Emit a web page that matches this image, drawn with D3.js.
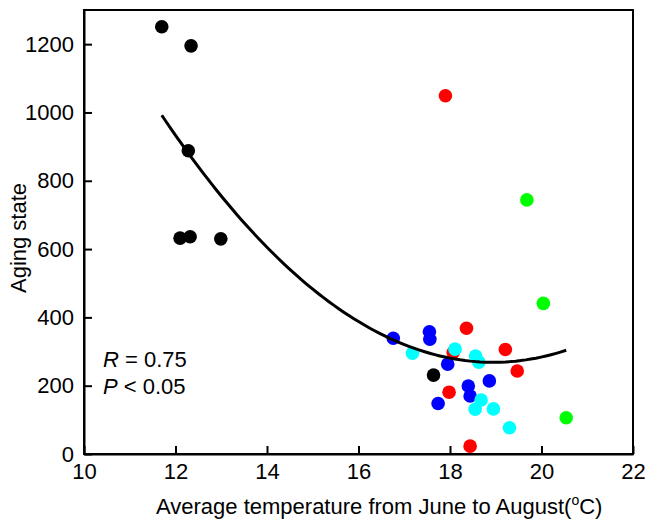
<!DOCTYPE html>
<html>
<head>
<meta charset="utf-8">
<script src="https://cdn.jsdelivr.net/npm/d3@7"></script>
<style>
  body { margin: 0; background: #fff; }
  svg text { font-family: "Liberation Sans", Arial, sans-serif; fill: #000; }
</style>
</head>
<body>
<div id="chart"></div>
<script>
// groups of sites, temperature (x) and aging state (y)
const tempA  = [11.70, 12.34, 12.28, 12.10, 12.32, 12.99, 17.64];
const agingA = [1251, 1195, 888, 632, 636, 630, 231];

const tempB  = [17.90, 18.36, 18.07, 19.21, 19.47, 17.98, 18.44];
const agingB = [1049, 368, 297, 306, 243, 181, 23];

const tempC  = [16.76, 17.55, 17.56, 17.95, 18.86, 18.40, 18.44, 17.74];
const agingC = [339, 358, 336, 263, 214, 199, 170, 148];

const tempD  = [17.18, 18.11, 18.56, 18.63, 18.68, 18.55, 18.95, 19.30];
const agingD = [295, 307, 287, 269, 158, 131, 132, 77];

const tempE  = [19.68, 20.04, 20.54];
const agingE = [744, 441, 106];

const groups = [
  { key: "A", temp: tempA, aging: agingA },
  { key: "B", temp: tempB, aging: agingB },
  { key: "C", temp: tempC, aging: agingC },
  { key: "D", temp: tempD, aging: agingD },
  { key: "E", temp: tempE, aging: agingE }
];

// quadratic fit: aging = a*(t-h)^2 + k
const fitCoef  = [13.8, 18.94, 268.5];
const fitRange = [11.7, 20.54];

const xTicks = [10, 12, 14, 16, 18, 20, 22];
const yTicks = [0, 200, 400, 600, 800, 1000, 1200];

const colors = { A: "#000000", B: "#ff0000", C: "#0000ff", D: "#00ffff", E: "#00ff00" };

const width = 646, height = 522;
const margin = { top: 10, right: 13, bottom: 68, left: 84 };
const fs = 22;

const svg = d3.select("#chart").append("svg")
	.attr("width", width)
	.attr("height", height);

const x = d3.scaleLinear().domain([10, 22]).range([margin.left, width - margin.right]);
const y = d3.scaleLinear().domain([0, 1300]).range([height - margin.bottom, margin.top]);

// frame
svg.append("rect")
	.attr("x", margin.left)
	.attr("y", margin.top)
	.attr("width", width - margin.left - margin.right)
	.attr("height", height - margin.top - margin.bottom)
	.attr("fill", "none")
	.attr("stroke", "#000")
	.attr("stroke-width", 2);

let xAxis = svg.append("g")
	.attr("transform", "translate(0," + (height - margin.bottom) + ")")
	.call(d3.axisBottom(x).tickValues(xTicks).tickFormat(d3.format("d"))
		.tickSizeInner(-8).tickSizeOuter(0).tickPadding(9));

let yAxis = svg.append("g")
	.attr("transform", "translate(" + margin.left + ",0)")
	.call(d3.axisLeft(y).tickValues(yTicks).tickFormat(d3.format("d"))
		.tickSizeInner(-8).tickSizeOuter(0).tickPadding(10));

[xAxis, yAxis].forEach((g) => {
	g.attr("font-size", null).attr("font-family", null);
	g.selectAll("path.domain").attr("stroke-width", 2);
	g.selectAll(".tick line").attr("stroke-width", 2);
	g.selectAll("text").attr("font-size", fs);
});

// points
groups.forEach((grp) => {
	let pts = grp.temp.map((t, i) => ({ t: t, a: grp.aging[i] }));
	svg.append("g").selectAll("circle")
		.data(pts)
		.enter().append("circle")
		.attr("cx", (o) => x(o.t))
		.attr("cy", (o) => y(o.a))
		.attr("r", 6.8)
		.attr("fill", colors[grp.key]);
});

// fitted curve
let fitX = d3.range(fitRange[0], fitRange[1] + 0.001, (fitRange[1] - fitRange[0]) / 80);
let line = d3.line()
	.x((t) => x(t))
	.y((t) => y(fitCoef[0] * (t - fitCoef[1]) * (t - fitCoef[1]) + fitCoef[2]));

svg.append("path")
	.datum(fitX)
	.attr("d", line)
	.attr("fill", "none")
	.attr("stroke", "#000")
	.attr("stroke-width", 3);

// statistics
let stat1 = svg.append("text").attr("x", 103).attr("y", 367).attr("font-size", fs);
stat1.append("tspan").attr("font-style", "italic").text("R");
stat1.append("tspan").text(" = 0.75");
let stat2 = svg.append("text").attr("x", 103).attr("y", 394).attr("font-size", fs);
stat2.append("tspan").attr("font-style", "italic").text("P");
stat2.append("tspan").text(" < 0.05");

// axis titles
let xt = svg.append("text")
	.attr("x", 156)
	.attr("y", 514)
	.attr("font-size", fs);
xt.append("tspan").text("Average temperature from June to August(");
xt.append("tspan").attr("font-size", 14).attr("dy", -9).text("o");
xt.append("tspan").attr("dy", 9).text("C)");

svg.append("text")
	.attr("transform", "translate(26," + 238 + ") rotate(-90)")
	.attr("text-anchor", "middle")
	.attr("font-size", fs)
	.text("Aging state");
</script>
</body>
</html>
